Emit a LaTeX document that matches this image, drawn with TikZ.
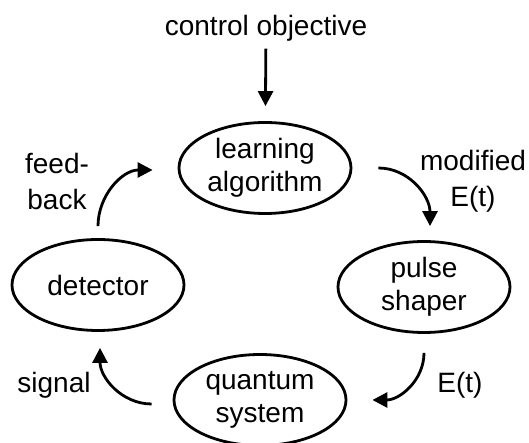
\documentclass[tikz,border=0pt]{standalone}
\usepackage{fontspec}
\setmainfont{Liberation Sans}
\usetikzlibrary{arrows.meta,shapes.geometric}

\begin{document}
\begin{tikzpicture}[x=1pt,y=1pt,
    box/.style={ellipse, draw, line width=2.8pt, minimum width=172pt, minimum height=91pt, inner sep=0pt, align=center, font=\fontsize{28}{33}\selectfont},
    lbl/.style={align=center, font=\fontsize{28}{36}\selectfont},
    flow/.style={line width=2.8pt, -{Triangle[length=15pt,width=15pt]}}]
    % 边界
    \useasboundingbox (0,0) rectangle (529,443);

    % 椭圆节点
    \node[box] (learn) at (265,275) {learning\\algorithm};
    \node[box] (pulse) at (424,156) {pulse\\shaper};
    \node[box] (quantum) at (260,43) {quantum\\system};
    \node[box] (detector) at (98,158) {detector};

    % 文字标注
    \node[lbl] (objective) at (266,415) {control objective};
    \node[lbl] (feedback) at (57,262) {feed-\\back};
    \node[lbl] (modified) at (473,262) {modified\\E(t)};
    \node[lbl] (field) at (460,58) {E(t)};
    \node[lbl] (signal) at (54,58) {signal};

    % 箭头
    \draw[flow, shorten <=4pt, shorten >=15pt] (objective) -- (learn);
    \draw[flow] ([xshift=26pt]learn.east) to[out=0,in=90] ([shift={(6pt,14pt)}]pulse.north);
    \draw[flow] ([yshift=-19pt]pulse.south) to[out=-90,in=0] ([xshift=25pt]quantum.east);
    \draw[flow] ([shift={(-21pt,-4pt)}]quantum.west) to[out=180,in=-90] ([shift={(2pt,-16pt)}]detector.south);
    \draw[flow] ([yshift=12pt]detector.north) to[out=90,in=180] ([shift={(-25pt,-2pt)}]learn.west);
\end{tikzpicture}
\end{document}
